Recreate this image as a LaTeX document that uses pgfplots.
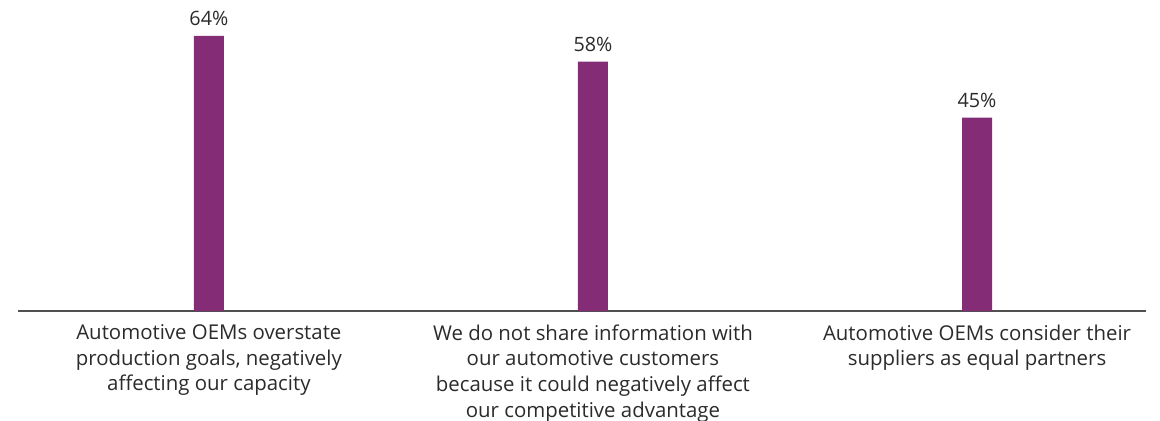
\documentclass[border=0pt]{standalone}
\usepackage{pgfplots}
\pgfplotsset{compat=1.18}
\usepackage{fontspec}
\setmainfont{Open Sans}
\definecolor{barpurple}{HTML}{852C77}
\definecolor{axisgray}{HTML}{505050}
\definecolor{labelgray}{HTML}{2B2B2B}

\begin{document}
\begin{tikzpicture}
\begin{axis}[
  scale only axis,
  width=846pt, height=229.5pt,
  xmin=-0.497, xmax=2.44,
  ymin=0, ymax=71.2,
  axis x line*=bottom,
  axis y line=none,
  x axis line style={axisgray, line width=1.4pt, -},
  xtick={0,1,2},
  xtick style={draw=none},
  xticklabels={
    {Automotive OEMs overstate\\production goals, negatively\\affecting our capacity},
    {We do not share information with\\our automotive customers\\because it could negatively affect\\our competitive advantage},
    {Automotive OEMs consider their\\suppliers as equal partners}},
  xticklabel style={align=center, font=\fontsize{15.3}{19.2}\selectfont, text=labelgray, yshift=-2.5pt},
  ybar, bar width=22.5pt,
  nodes near coords={\pgfmathprintnumber{\pgfplotspointmeta}\%},
  nodes near coords style={font=\fontsize{14.8}{17}\selectfont, text=labelgray, yshift=4pt},
  /pgf/number format/assume math mode=true,
]
% share of respondents agreeing
\addplot[fill=barpurple, draw=none] coordinates {(0,64) (1,58) (2,45)};
\end{axis}
\pgfresetboundingbox
\path[use as bounding box] (-13.5pt,-82.5pt) rectangle (856.5pt,233.25pt);
\end{tikzpicture}
\end{document}
